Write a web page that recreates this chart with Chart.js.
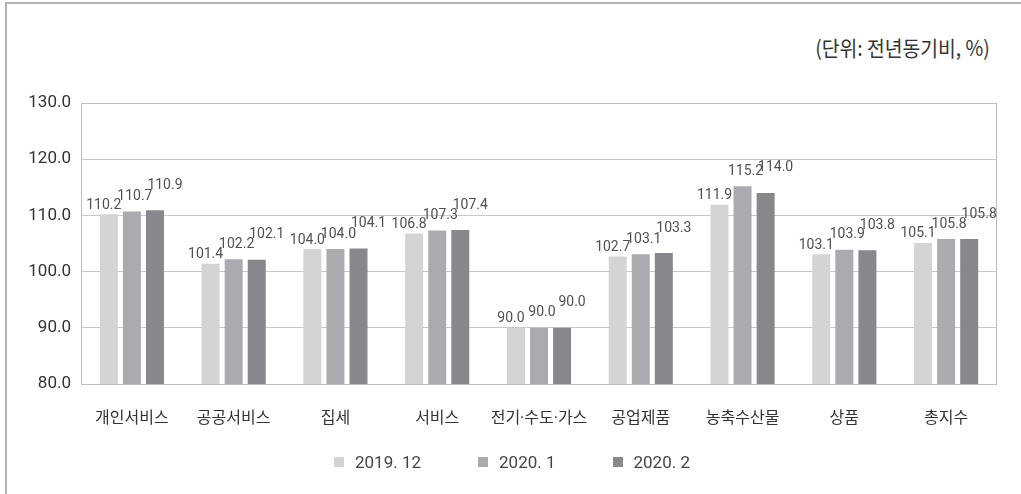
<!DOCTYPE html>
<html>
<head>
<meta charset="utf-8">
<script src="https://cdn.jsdelivr.net/npm/chart.js@4"></script>
<style>
  body { margin: 0; background: #fff; }
  #wrap { position: relative; width: 1021px; height: 494px; overflow: hidden; }
  #frame { position: absolute; left: 5px; top: 2px; width: 1100px; height: 600px;
    border-left: 2px solid #b3b3b3; border-top: 2px solid #b3b3b3; }
  #unit { position: absolute; right: 31px; top: 32px; font: 21px "Noto Sans CJK KR", sans-serif;
    color: #333; transform: scaleX(0.92); transform-origin: right center; white-space: nowrap; }
  canvas { position: absolute; left: 0; top: 0; }
  #legend { position: absolute; left: 334px; top: 452px; display: flex; align-items: center;
    font: 17px Roboto, "Noto Sans CJK KR", sans-serif; color: #444; }
  #legend span.box { display: inline-block; width: 10px; height: 10px; margin-right: 11px; }
  #legend div { display: flex; align-items: center; margin-right: 57px; }
</style>
</head>
<body>
<div id="wrap">
  <div id="frame"></div>
  <div id="unit">(단위: 전년동기비, %)</div>
  <canvas id="chart" width="1021" height="494"></canvas>
  <div id="legend"></div>
</div>
<script>
// categories and series (전년동기비, %)
const categories = ["개인서비스", "공공서비스", "집세", "서비스", "전기·수도·가스", "공업제품", "농축수산물", "상품", "총지수"];
const seriesNames = ["2019. 12", "2020. 1", "2020. 2"];
const dec2019 = [110.2, 101.4, 104.0, 106.8, 90.0, 102.7, 111.9, 103.1, 105.1];
const jan2020 = [110.7, 102.2, 104.0, 107.3, 90.0, 103.1, 115.2, 103.9, 105.8];
const feb2020 = [110.9, 102.1, 104.1, 107.4, 90.0, 103.3, 114.0, 103.8, 105.8];
const yTicks = [80, 90, 100, 110, 120, 130];

const colors = ["#d4d4d6", "#aaabae", "#87888c"];
const font = "Roboto, 'Noto Sans CJK KR', sans-serif";

// value labels, staggered a little like the original
const labelOffsets = [{ dx: -5, dy: 9 }, { dx: 3, dy: 15 }, { dx: 10, dy: 25 }];
const valueLabels = {
  id: "valueLabels",
  afterDatasetsDraw(chart) {
    const ctx = chart.ctx;
    ctx.save();
    ctx.font = "14px " + font;
    ctx.fillStyle = "#505050";
    ctx.textAlign = "center";
    ctx.textBaseline = "middle";
    chart.data.datasets.forEach((ds, i) => {
      const off = labelOffsets[i];
      chart.getDatasetMeta(i).data.forEach((bar, j) => {
        ctx.fillText(ds.data[j].toFixed(1), bar.x + off.dx, bar.y - off.dy);
      });
    });
    ctx.restore();
  }
};

// box around the plot area
const plotBorder = {
  id: "plotBorder",
  afterDraw(chart) {
    const a = chart.chartArea;
    const ctx = chart.ctx;
    ctx.save();
    ctx.strokeStyle = "#bdbdbd";
    ctx.lineWidth = 1;
    ctx.strokeRect(a.left + 0.5, a.top + 0.5, a.right - a.left - 1, a.bottom - a.top);
    ctx.restore();
  }
};

const datasets = [dec2019, jan2020, feb2020].map((d, i) => ({
  label: seriesNames[i],
  data: d,
  backgroundColor: colors[i],
  categoryPercentage: 0.68,
  barPercentage: 0.78
}));

new Chart(document.getElementById("chart"), {
  type: "bar",
  data: { labels: categories, datasets: datasets },
  options: {
    responsive: false,
    animation: false,
    layout: { padding: { left: 0, right: 24, top: 103, bottom: 60 } },
    plugins: { legend: { display: false }, tooltip: { enabled: false } },
    scales: {
      x: {
        grid: { display: false },
        border: { display: false },
        ticks: { font: { size: 16, family: font }, color: "#333", padding: 17, maxRotation: 0 },
        afterFit: (s) => { s.height = 50; }
      },
      y: {
        min: 80,
        max: 130,
        afterBuildTicks: (s) => { s.ticks = yTicks.map((v) => ({ value: v })); },
        grid: { color: "#c8c8c8", drawTicks: false },
        border: { display: false },
        ticks: { font: { size: 17, family: font }, color: "#333", padding: 10,
          callback: (v) => v.toFixed(1) },
        afterFit: (s) => { s.width = 81; }
      }
    }
  },
  plugins: [valueLabels, plotBorder]
});

// legend
const legend = document.getElementById("legend");
seriesNames.forEach((name, i) => {
  const item = document.createElement("div");
  const box = document.createElement("span");
  box.className = "box";
  box.style.background = colors[i];
  item.appendChild(box);
  item.appendChild(document.createTextNode(name));
  legend.appendChild(item);
});
</script>
</body>
</html>
